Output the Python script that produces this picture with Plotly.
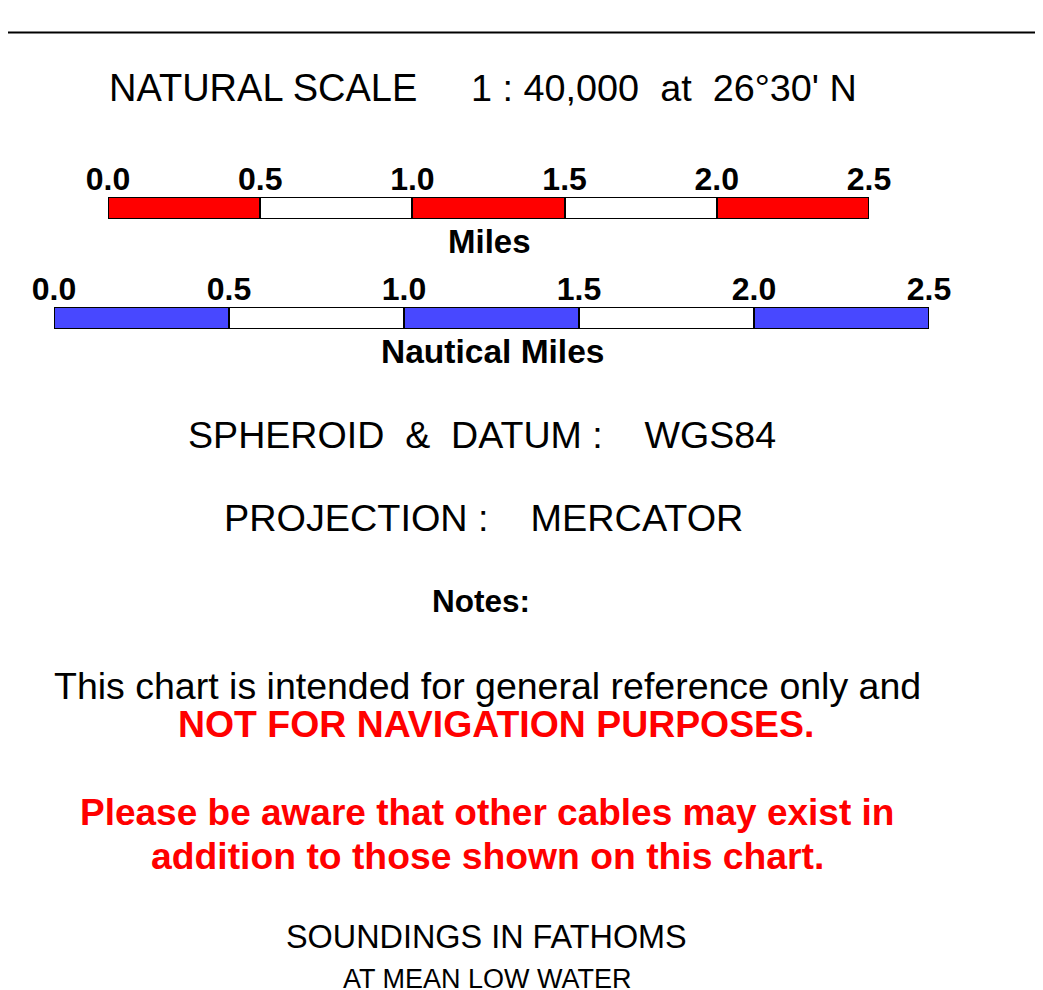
import plotly.graph_objects as go

W, H = 1043, 990
OFF = 8  # page body margin offset of the figure inside the browser window
FONT = "Arial, Liberation Sans, sans-serif"

# ---- data ----
scale_ticks = [0.0, 0.5, 1.0, 1.5, 2.0, 2.5]
scale_tick_labels = ["0.0", "0.5", "1.0", "1.5", "2.0", "2.5"]
segment_starts = [0.0, 0.5, 1.0, 1.5, 2.0]
segment_lengths = [0.5, 0.5, 0.5, 0.5, 0.5]
miles_colors = ["#ff0000", "#ffffff", "#ff0000", "#ffffff", "#ff0000"]
nautical_colors = ["#4848ff", "#ffffff", "#4848ff", "#ffffff", "#4848ff"]

fig = go.Figure()

def px_x(v):
    return (v - OFF) / W

def px_y(v):
    return 1 - (v - OFF) / H

fig.add_trace(go.Bar(
    x=segment_lengths, y=["m"] * 5, base=segment_starts, orientation="h",
    marker=dict(color=miles_colors, line=dict(color="black", width=2)),
    width=1, xaxis="x2", yaxis="y2", showlegend=False, hoverinfo="skip"))
fig.add_trace(go.Bar(
    x=segment_lengths, y=["n"] * 5, base=segment_starts, orientation="h",
    marker=dict(color=nautical_colors, line=dict(color="black", width=2)),
    width=1, xaxis="x3", yaxis="y3", showlegend=False, hoverinfo="skip"))

tickfont = dict(family=FONT, size=32, color="black", weight="bold")

fig.update_layout(
    width=W, height=H, margin=dict(l=0, r=0, t=0, b=0, pad=0, autoexpand=False),
    autosize=False, showlegend=False,
    paper_bgcolor="white", plot_bgcolor="rgba(0,0,0,0)",
    xaxis=dict(range=[OFF, W + OFF], visible=False, domain=[0, 1], automargin=False),
    yaxis=dict(range=[H + OFF, OFF], visible=False, domain=[0, 1], automargin=False),
    xaxis2=dict(domain=[px_x(108), px_x(869)], range=[0, 2.5], anchor="y2", side="top",
                tickvals=scale_ticks, ticktext=scale_tick_labels, tickfont=tickfont,
                showgrid=False, zeroline=False, showline=False, ticks="",
                ticklabelstandoff=0, automargin=False),
    yaxis2=dict(domain=[px_y(219), px_y(197)], range=[-0.5, 0.5], anchor="x2",
                visible=False, type="category", automargin=False),
    xaxis3=dict(domain=[px_x(54), px_x(929)], range=[0, 2.5], anchor="y3", side="top",
                tickvals=scale_ticks, ticktext=scale_tick_labels, tickfont=tickfont,
                showgrid=False, zeroline=False, showline=False, ticks="",
                ticklabelstandoff=0, automargin=False),
    yaxis3=dict(domain=[px_y(329), px_y(307)], range=[-0.5, 0.5], anchor="x3",
                visible=False, type="category", automargin=False),
    bargap=0,
)

fig.add_shape(type="line", xref="x", yref="y", x0=0, x1=W + OFF, y0=32.5, y1=32.5,
              line=dict(color="black", width=2))

def text(t, x, y, size, bold=False, color="black", xanchor="center"):
    fig.add_annotation(text=t, x=x, y=y, xref="x", yref="y", showarrow=False,
                       xanchor=xanchor, yanchor="middle",
                       font=dict(family=FONT, size=size, color=color,
                                 weight="bold" if bold else "normal"))

NB = "\u00a0"
text("NATURAL SCALE", 107, 88, 38, xanchor="left")
text("1 : 40,000" + NB * 2 + "at" + NB * 2 + "26°30' N", 469, 88, 37.8, xanchor="left")
text("Miles", 489, 241, 33, bold=True)
text("Nautical Miles", 492, 351, 33.5, bold=True)
text("SPHEROID" + NB * 2 + "&" + NB * 2 + "DATUM :" + NB * 4 + "WGS84", 481.5, 435, 37.6)
text("PROJECTION :" + NB * 4 + "MERCATOR", 483, 518, 37.8)
text("Notes:", 481, 601, 31.5, bold=True)
text("This chart is intended for general reference only and", 487, 686, 37.5)
text("NOT FOR NAVIGATION PURPOSES.", 496, 724, 37.4, bold=True, color="#ff0000")
text("Please be aware that other cables may exist in", 487, 812, 37, bold=True, color="#ff0000")
text("addition to those shown on this chart.", 487.5, 856, 37.3, bold=True, color="#ff0000")
text("SOUNDINGS IN FATHOMS", 486.5, 937, 32.4)
text("AT MEAN LOW WATER", 487, 979, 27)

fig.write_html("out.html")
